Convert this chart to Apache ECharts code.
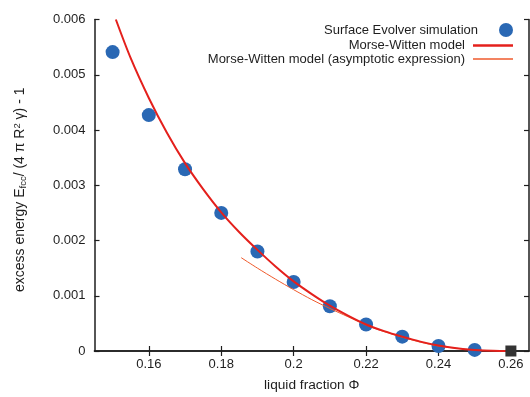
<!DOCTYPE html>
<html>
<head>
<meta charset="utf-8">
<script src="https://cdn.jsdelivr.net/npm/echarts@6/dist/echarts.min.js"></script>
<style>
  html, body { margin: 0; padding: 0; background: #fff; }
  #main { width: 530px; height: 397px; }
</style>
</head>
<body>
<div id="main"></div>
<script>
// Surface Evolver points
const simPhi = [0.15, 0.16, 0.17, 0.18, 0.19, 0.20, 0.21, 0.22, 0.23, 0.24, 0.25];
const simEnergy = [0.00541, 0.00427, 0.00329, 0.00250, 0.00180, 0.00125, 0.00081, 0.00048, 0.00026, 0.00009, 0.00002];

// Morse-Witten model curve
const mwPhi = [0.1509, 0.155, 0.16, 0.165, 0.17, 0.175, 0.18, 0.185, 0.19, 0.195, 0.20, 0.205, 0.21, 0.215, 0.22, 0.225, 0.23, 0.235, 0.24, 0.245, 0.25, 0.255, 0.26];
const mwEnergy = [0.0060, 0.00530, 0.00458, 0.00395, 0.00340, 0.00293, 0.00251, 0.00215, 0.00183, 0.00153, 0.00126, 0.00103, 0.00082, 0.00064, 0.00048, 0.00036, 0.00026, 0.00017, 0.00010, 0.00005, 0.00002, 0.000005, 0];

// asymptotic expression
const asPhi = [0.1855, 0.19, 0.195, 0.20, 0.205, 0.21, 0.215, 0.22, 0.225, 0.23, 0.235, 0.24, 0.245, 0.25, 0.255, 0.26];
const asEnergy = [0.00169, 0.00150, 0.00130, 0.00111, 0.00093, 0.00077, 0.00062, 0.00047, 0.00035, 0.00025, 0.00016, 0.00009, 0.00005, 0.00002, 0.000005, 0];

// critical point (black square)
const critPhi = [0.26];
const critEnergy = [0];

const xTicks = [0.16, 0.18, 0.20, 0.22, 0.24, 0.26];
const xTickLabels = ['0.16', '0.18', '0.2', '0.22', '0.24', '0.26'];
const yTickLabels = ['0', '0.001', '0.002', '0.003', '0.004', '0.005', '0.006'];

const pairs = (xs, ys) => xs.map((x, i) => [x, ys[i]]);
const font = "'Liberation Sans', Arial, sans-serif";
const ink = '#1e1e1e';

const chart = echarts.init(document.getElementById('main'));

const legendBase = {
  orient: 'vertical',
  align: 'right',
  right: 17,
  padding: 0,
  itemWidth: 40,
  itemHeight: 14,
  selectedMode: false,
  textStyle: { fontFamily: font, fontSize: 13, color: ink, padding: [0, 3, 0, 0] }
};

const frameAxis = {
  axisLine: { show: true, lineStyle: { color: ink, width: 1.5 } },
  axisTick: { show: true, inside: true, length: 5, lineStyle: { color: ink, width: 1.2 } },
  axisLabel: { show: false },
  splitLine: { show: false }
};

chart.setOption({
  animation: false,
  backgroundColor: '#fff',
  grid: { left: 94.5, right: 1, top: 19.5, bottom: 44 },
  legend: [
    Object.assign({}, legendBase, { top: 23, data: ['Surface Evolver simulation'] }),
    Object.assign({}, legendBase, { top: 39, itemHeight: 2.5, data: [{ name: 'Morse-Witten model', icon: 'rect' }] }),
    Object.assign({}, legendBase, { top: 52.5, itemHeight: 1.5, data: [{ name: 'Morse-Witten model (asymptotic expression)', icon: 'rect' }] })
  ],
  xAxis: [
    Object.assign({}, frameAxis, {
      type: 'value', min: 0.145, max: 0.265, position: 'bottom',
      axisTick: Object.assign({}, frameAxis.axisTick, { customValues: xTicks }),
      axisLabel: {
        show: true, customValues: xTicks, margin: 7,
        fontFamily: font, fontSize: 13, color: ink,
        formatter: v => xTickLabels[xTicks.findIndex(t => Math.abs(t - v) < 1e-9)]
      },
      name: 'liquid fraction Φ', nameLocation: 'middle', nameGap: 27,
      nameTextStyle: { fontFamily: font, fontSize: 13.7, color: ink }
    }),
    Object.assign({}, frameAxis, {
      type: 'value', min: 0.145, max: 0.265, position: 'top',
      axisTick: Object.assign({}, frameAxis.axisTick, { customValues: xTicks })
    })
  ],
  yAxis: [
    Object.assign({}, frameAxis, {
      type: 'value', min: 0, max: 0.006, interval: 0.001, position: 'left',
      axisLabel: {
        show: true, margin: 9, fontFamily: font, fontSize: 13, color: ink,
        formatter: v => yTickLabels[Math.round(v * 1000)]
      },
      name: 'excess energy E{sub|fcc}/ (4 π R{sup|2} γ) - 1',
      nameLocation: 'middle', nameGap: 66, nameRotate: 90,
      nameTextStyle: {
        fontFamily: font, fontSize: 14, color: ink, padding: [0, 9, 0, 0],
        rich: {
          sub: { fontFamily: font, fontSize: 9.5, color: ink, verticalAlign: 'bottom', padding: [6, 0, 0, 0] },
          sup: { fontFamily: font, fontSize: 9.5, color: ink, verticalAlign: 'top', padding: [0, 0, 6, 0] }
        }
      }
    }),
    Object.assign({}, frameAxis, {
      type: 'value', min: 0, max: 0.006, interval: 0.001, position: 'right'
    })
  ],
  series: [
    {
      name: 'Morse-Witten model (asymptotic expression)',
      type: 'line', data: pairs(asPhi, asEnergy), smooth: 0.3,
      showSymbol: false, symbol: 'none',
      lineStyle: { color: '#ef5a2c', width: 1 }, itemStyle: { color: '#ef5a2c' },
      z: 3
    },
    {
      name: 'Morse-Witten model',
      type: 'line', data: pairs(mwPhi, mwEnergy), smooth: 0.3,
      showSymbol: false, symbol: 'none',
      lineStyle: { color: '#e4201c', width: 2 }, itemStyle: { color: '#e4201c' },
      z: 4
    },
    {
      name: 'Surface Evolver simulation',
      type: 'scatter', data: pairs(simPhi, simEnergy),
      symbol: 'circle', symbolSize: 14,
      itemStyle: { color: '#2a68b4', opacity: 1 },
      z: 2
    },
    {
      name: 'critical point',
      type: 'scatter', data: pairs(critPhi, critEnergy),
      symbol: 'rect', symbolSize: 11,
      itemStyle: { color: '#333333', opacity: 1 },
      z: 5
    }
  ]
});
</script>
</body>
</html>
